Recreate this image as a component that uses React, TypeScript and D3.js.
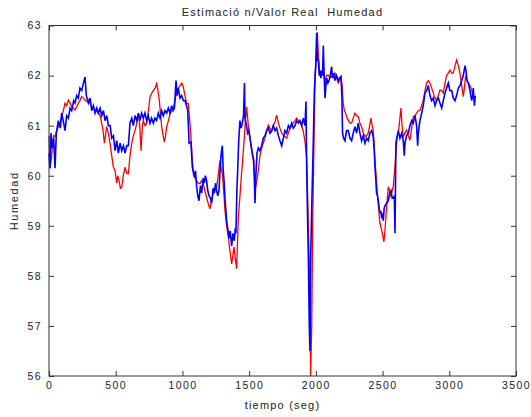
import React, { useEffect, useRef } from 'react';
import * as d3 from 'd3';

// readings: [time (seg), humedad]
const redSeries: [number, number][] = [
  [0, 60.8], [8, 60.15], [20, 60.4], [35, 60.8], [45, 60.78], [58, 60.9], [70, 60.98], [83, 61.05], [95, 61.18],
  [108, 61.3], [120, 61.45], [132, 61.4], [145, 61.51], [158, 61.45], [170, 61.38], [183, 61.35], [195, 61.31],
  [208, 61.38], [220, 61.45], [232, 61.5], [245, 61.58], [258, 61.55], [270, 61.51], [283, 61.48], [295, 61.51],
  [308, 61.45], [320, 61.38], [333, 61.35], [345, 61.31], [358, 61.28], [370, 61.25], [383, 61.2], [395, 61.05],
  [405, 60.9], [415, 60.65], [423, 60.8], [432, 60.98], [445, 60.85], [457, 60.65], [470, 60.4], [482, 60.18],
  [495, 60.1], [507, 59.85], [515, 60.0], [525, 59.9], [535, 59.75], [545, 59.77], [557, 60.0], [570, 60.17],
  [582, 60.05], [595, 60.04], [607, 60.4], [620, 60.64], [632, 60.8], [645, 60.9], [658, 61.05], [670, 61.24],
  [680, 61.0], [690, 60.5], [700, 61.0], [707, 61.1], [720, 61.0], [732, 61.04], [745, 61.3], [757, 61.57],
  [770, 61.65], [782, 61.7], [795, 61.75], [807, 61.84], [817, 61.7], [827, 61.5], [837, 61.2], [845, 60.97],
  [855, 60.8], [865, 60.67], [873, 60.8], [882, 60.97], [895, 61.1], [907, 61.24], [920, 61.3], [932, 61.37],
  [945, 61.5], [957, 61.7], [970, 61.75], [982, 61.8], [995, 61.85], [1007, 61.77], [1019, 61.6], [1032, 61.44],
  [1044, 61.44], [1055, 61.1], [1064, 60.77], [1072, 60.4], [1081, 60.1], [1094, 59.95], [1106, 59.9],
  [1118, 59.85], [1131, 59.84], [1143, 59.9], [1156, 59.84], [1168, 59.7], [1181, 59.57], [1193, 59.45],
  [1206, 59.34], [1218, 59.5], [1231, 59.64], [1243, 59.7], [1256, 59.77], [1268, 60.0], [1281, 60.3],
  [1290, 60.15], [1299, 60.04], [1309, 59.7], [1319, 59.3], [1331, 59.0], [1344, 58.78], [1356, 58.5],
  [1369, 58.24], [1378, 58.4], [1386, 58.58], [1396, 58.35], [1406, 58.14], [1412, 58.6], [1419, 59.17],
  [1430, 59.55], [1439, 59.9], [1451, 60.3], [1464, 60.77], [1472, 61.1], [1481, 61.37], [1494, 61.0],
  [1506, 60.77], [1519, 60.5], [1531, 60.3], [1540, 60.0], [1549, 59.77], [1558, 59.9], [1569, 60.1],
  [1581, 60.4], [1594, 60.55], [1606, 60.65], [1619, 60.75], [1631, 60.9], [1644, 61.01], [1656, 60.95],
  [1669, 60.88], [1681, 61.0], [1694, 61.08], [1706, 61.21], [1719, 61.05], [1731, 60.95], [1744, 60.85],
  [1756, 60.81], [1769, 60.78], [1781, 60.75], [1794, 60.85], [1806, 60.95], [1819, 61.0], [1831, 61.05],
  [1844, 61.1], [1856, 61.15], [1869, 61.1], [1881, 61.08], [1894, 61.0], [1906, 60.88], [1919, 60.68],
  [1931, 60.35], [1939, 59.55], [1949, 58.35], [1956, 57.35], [1961, 56.0], [1969, 57.0], [1976, 59.0],
  [1984, 60.35], [1994, 62.01], [2000, 62.2], [2011, 62.87], [2019, 62.41], [2025, 62.2], [2031, 62.01],
  [2044, 62.05], [2056, 62.08], [2068, 61.88], [2081, 62.01], [2093, 62.01], [2105, 61.95], [2118, 61.98],
  [2130, 62.0], [2143, 62.05], [2155, 61.95], [2168, 61.85], [2178, 61.9], [2188, 61.98], [2197, 61.8],
  [2205, 61.45], [2214, 61.3], [2223, 61.25], [2233, 61.15], [2243, 61.11], [2255, 61.05], [2268, 61.05],
  [2280, 61.15], [2293, 61.25], [2305, 61.2], [2318, 61.18], [2330, 61.05], [2343, 60.98], [2355, 60.85],
  [2368, 60.78], [2380, 60.8], [2393, 60.85], [2403, 61.0], [2413, 61.15], [2422, 61.0], [2430, 60.91],
  [2437, 60.6], [2443, 60.31], [2453, 59.95], [2463, 59.58], [2472, 59.3], [2480, 59.05], [2490, 58.95],
  [2498, 58.85], [2505, 58.75], [2510, 58.68], [2518, 58.9], [2525, 59.18], [2534, 59.5], [2543, 59.78],
  [2553, 59.7], [2563, 59.58], [2572, 59.7], [2580, 59.78], [2590, 60.1], [2598, 60.38], [2608, 60.75],
  [2618, 60.85], [2628, 61.1], [2638, 61.35], [2646, 61.0], [2655, 60.78], [2668, 60.85], [2680, 60.91],
  [2693, 60.8], [2705, 60.71], [2718, 60.95], [2730, 61.18], [2743, 61.2], [2755, 61.25], [2768, 61.3],
  [2780, 61.31], [2793, 61.4], [2805, 61.51], [2818, 61.7], [2830, 61.85], [2843, 61.9], [2855, 61.85],
  [2868, 61.75], [2880, 61.65], [2893, 61.55], [2905, 61.51], [2918, 61.6], [2930, 61.71], [2943, 61.7],
  [2955, 61.65], [2968, 61.85], [2980, 62.0], [2993, 62.05], [3005, 62.11], [3018, 62.05], [3030, 62.05],
  [3043, 62.2], [3055, 62.31], [3068, 62.2], [3080, 62.05], [3093, 61.8], [3105, 61.58], [3113, 61.75],
  [3123, 62.0], [3133, 61.9], [3143, 61.85], [3155, 61.8], [3168, 61.71], [3178, 61.6], [3188, 61.58],
];

const blueSeries: [number, number][] = [
  [0, 60.45], [8, 60.15], [15, 60.85], [25, 60.55], [35, 60.75], [45, 60.15], [55, 60.85], [70, 61.1], [85, 60.95],
  [95, 61.25], [110, 61.05], [120, 60.9], [132, 61.2], [145, 61.15], [158, 61.35], [170, 61.3], [185, 61.5],
  [195, 61.45], [208, 61.6], [220, 61.55], [232, 61.75], [245, 61.7], [258, 61.85], [270, 61.97], [280, 61.6],
  [295, 61.45], [308, 61.55], [320, 61.3], [333, 61.4], [345, 61.25], [358, 61.35], [370, 61.25], [383, 61.35],
  [395, 61.2], [408, 61.3], [420, 61.1], [433, 61.2], [445, 61.0], [458, 61.0], [470, 60.75], [483, 60.8],
  [495, 60.5], [508, 60.7], [520, 60.45], [533, 60.65], [545, 60.5], [558, 60.6], [570, 60.45], [583, 60.6],
  [595, 60.6], [607, 61.05], [620, 61.15], [632, 61.0], [645, 61.2], [658, 61.1], [670, 61.25], [682, 61.1],
  [694, 61.25], [707, 61.15], [719, 61.25], [732, 61.1], [744, 61.2], [757, 61.05], [769, 61.15], [782, 61.05],
  [794, 61.15], [807, 61.1], [819, 61.25], [832, 61.15], [844, 61.3], [857, 61.2], [869, 61.3], [882, 61.25],
  [894, 61.35], [907, 61.25], [919, 61.4], [930, 61.3], [940, 61.35], [952, 61.9], [960, 61.6], [969, 61.75],
  [982, 61.55], [994, 61.6], [1007, 61.5], [1019, 61.5], [1030, 61.4], [1040, 61.3], [1050, 60.65], [1064, 60.67],
  [1074, 60.17], [1089, 59.97], [1098, 60.1], [1106, 59.8], [1115, 59.6], [1124, 59.5], [1135, 59.8],
  [1144, 59.65], [1155, 59.95], [1164, 59.85], [1172, 60.0], [1181, 59.9], [1190, 59.7], [1199, 59.6],
  [1210, 59.55], [1219, 59.45], [1230, 59.75], [1239, 59.65], [1248, 59.85], [1256, 59.7], [1265, 59.6],
  [1274, 59.7], [1282, 60.1], [1289, 60.4], [1299, 60.6], [1306, 60.1], [1312, 59.9], [1319, 59.55],
  [1331, 59.1], [1340, 58.95], [1349, 58.75], [1358, 58.9], [1369, 58.6], [1379, 58.85], [1389, 58.7],
  [1396, 58.95], [1401, 58.85], [1408, 59.7], [1414, 60.1], [1422, 60.7], [1431, 61.1], [1440, 60.95],
  [1449, 61.05], [1458, 61.2], [1465, 61.85], [1469, 61.15], [1480, 61.0], [1489, 60.85], [1498, 60.9],
  [1506, 60.75], [1515, 60.6], [1524, 60.45], [1535, 60.3], [1544, 59.45], [1550, 60.0], [1559, 60.45],
  [1569, 60.55], [1580, 60.5], [1594, 60.6], [1606, 60.75], [1619, 60.8], [1631, 60.9], [1644, 60.95],
  [1656, 60.85], [1669, 60.9], [1681, 61.0], [1694, 60.9], [1706, 60.95], [1719, 60.8], [1731, 60.7],
  [1744, 60.6], [1756, 60.75], [1769, 60.9], [1781, 60.85], [1794, 61.0], [1806, 60.95], [1819, 61.05],
  [1831, 60.95], [1844, 61.0], [1856, 61.1], [1869, 61.05], [1881, 61.1], [1894, 61.0], [1906, 61.15],
  [1919, 61.0], [1926, 61.48], [1931, 60.2], [1939, 59.0], [1944, 58.35], [1951, 57.0], [1956, 56.5],
  [1961, 58.35], [1969, 59.35], [1981, 60.7], [1989, 61.7], [1999, 62.2], [2006, 62.85], [2012, 62.3],
  [2019, 62.3], [2025, 62.0], [2031, 62.1], [2038, 61.95], [2044, 62.1], [2050, 62.0], [2056, 62.6],
  [2062, 62.0], [2069, 61.55], [2075, 61.8], [2081, 61.95], [2090, 61.85], [2099, 61.9], [2108, 62.0],
  [2118, 62.18], [2125, 61.95], [2133, 62.05], [2143, 61.9], [2155, 62.0], [2168, 61.9], [2178, 61.95],
  [2188, 61.98], [2195, 61.6], [2200, 60.85], [2208, 60.75], [2218, 60.7], [2230, 60.9], [2243, 60.9],
  [2255, 60.75], [2268, 60.7], [2280, 60.85], [2293, 60.98], [2305, 60.85], [2318, 61.05], [2330, 60.85],
  [2343, 60.7], [2355, 60.8], [2368, 60.65], [2380, 60.75], [2393, 60.7], [2405, 60.85], [2418, 60.9],
  [2430, 60.78], [2438, 60.5], [2443, 60.18], [2450, 59.9], [2455, 59.65], [2462, 59.6], [2468, 59.5],
  [2475, 59.35], [2480, 59.25], [2487, 59.3], [2493, 59.15], [2500, 59.25], [2505, 59.1], [2512, 59.35],
  [2518, 59.4], [2530, 59.45], [2543, 59.5], [2553, 59.65], [2563, 59.7], [2572, 59.55], [2580, 59.55],
  [2588, 59.6], [2593, 58.85], [2600, 60.65], [2610, 60.8], [2618, 60.9], [2630, 60.75], [2643, 60.85],
  [2655, 60.7], [2663, 60.4], [2668, 60.65], [2680, 60.8], [2693, 60.85], [2705, 61.0], [2718, 61.1],
  [2730, 61.05], [2743, 61.2], [2755, 61.0], [2763, 60.6], [2768, 60.85], [2780, 61.1], [2793, 61.25],
  [2805, 61.4], [2818, 61.65], [2830, 61.7], [2843, 61.8], [2855, 61.6], [2868, 61.5], [2880, 61.55],
  [2893, 61.4], [2905, 61.5], [2918, 61.55], [2930, 61.45], [2943, 61.35], [2955, 61.5], [2968, 61.65],
  [2980, 61.75], [2993, 61.85], [3005, 61.7], [3018, 61.7], [3030, 61.55], [3043, 61.5], [3055, 61.6],
  [3068, 61.75], [3080, 61.8], [3093, 61.9], [3105, 62.0], [3118, 62.2], [3125, 62.1], [3133, 61.9],
  [3143, 61.85], [3155, 61.7], [3168, 61.5], [3175, 61.6], [3180, 61.75], [3188, 61.4], [3195, 61.6],
];

const xTicks = [0, 500, 1000, 1500, 2000, 2500, 3000, 3500];
const yTicks = [56, 57, 58, 59, 60, 61, 62, 63];

const W = 531;
const H = 417;
const FONT = '"Liberation Sans", Arial, sans-serif';

export default function App() {
  const ref = useRef<SVGSVGElement>(null);

  useEffect(() => {
    const margin = { top: 25.5, right: 15, bottom: 41, left: 49 };
    const width = W - margin.left - margin.right;
    const height = H - margin.top - margin.bottom;

    const svg = d3.select(ref.current);
    svg.selectAll('*').remove();

    const g = svg.append('g').attr('transform', `translate(${margin.left},${margin.top})`);

    const x = d3.scaleLinear().domain([0, 3500]).range([0, width]);
    const y = d3.scaleLinear().domain([56, 63]).range([height, 0]);

    const line = d3.line<[number, number]>()
      .x((d) => x(d[0]))
      .y((d) => y(d[1]));

    g.append('path')
      .datum(redSeries)
      .attr('fill', 'none')
      .attr('stroke', '#ff0000')
      .attr('stroke-width', 1.3)
      .attr('d', line);

    g.append('path')
      .datum(blueSeries)
      .attr('fill', 'none')
      .attr('stroke', '#0000ff')
      .attr('stroke-width', 1.6)
      .attr('d', line);

    // axes, ticks pointing inwards like matlab
    const styleAxis = (sel: any) => {
      sel.select('.domain').remove();
      sel.selectAll('line').attr('stroke', '#333');
      sel.selectAll('text')
        .attr('font-family', FONT)
        .attr('font-size', 10.5)
        .attr('letter-spacing', 1.4)
        .attr('fill', '#222');
    };

    g.append('g')
      .attr('transform', `translate(0,${height})`)
      .call(d3.axisBottom(x).tickValues(xTicks).tickSize(-5).tickPadding(6).tickFormat(d3.format('d')))
      .call(styleAxis);
    g.append('g')
      .call(d3.axisTop(x).tickValues(xTicks).tickSize(-5).tickFormat(() => ''))
      .call(styleAxis);
    g.append('g')
      .call(d3.axisLeft(y).tickValues(yTicks).tickSize(-5).tickPadding(7).tickFormat(d3.format('d')))
      .call(styleAxis);
    g.append('g')
      .attr('transform', `translate(${width},0)`)
      .call(d3.axisRight(y).tickValues(yTicks).tickSize(-5).tickFormat(() => ''))
      .call(styleAxis);

    g.append('rect')
      .attr('width', width)
      .attr('height', height)
      .attr('fill', 'none')
      .attr('stroke', '#333')
      .attr('stroke-width', 1);

    svg.append('text')
      .attr('x', margin.left + width / 2)
      .attr('y', 16)
      .attr('text-anchor', 'middle')
      .attr('font-family', FONT)
      .attr('font-size', 11)
      .attr('letter-spacing', 1.2)
      .attr('fill', '#222')
      .style('white-space', 'pre')
      .text('Estimació n/Valor Real  Humedad');

    svg.append('text')
      .attr('x', margin.left + width / 2)
      .attr('y', 409)
      .attr('text-anchor', 'middle')
      .attr('font-family', FONT)
      .attr('font-size', 11)
      .attr('letter-spacing', 1.2)
      .attr('fill', '#222')
      .text('tiempo (seg)');

    svg.append('text')
      .attr('transform', `translate(18,${margin.top + height / 2}) rotate(-90)`)
      .attr('text-anchor', 'middle')
      .attr('font-family', FONT)
      .attr('font-size', 11)
      .attr('letter-spacing', 1.6)
      .attr('fill', '#222')
      .text('Humedad');
  }, []);

  return (
    <svg
      ref={ref}
      width={W}
      height={H}
      style={{ position: 'absolute', left: 0, top: 0, background: '#fff' }}
    />
  );
}
